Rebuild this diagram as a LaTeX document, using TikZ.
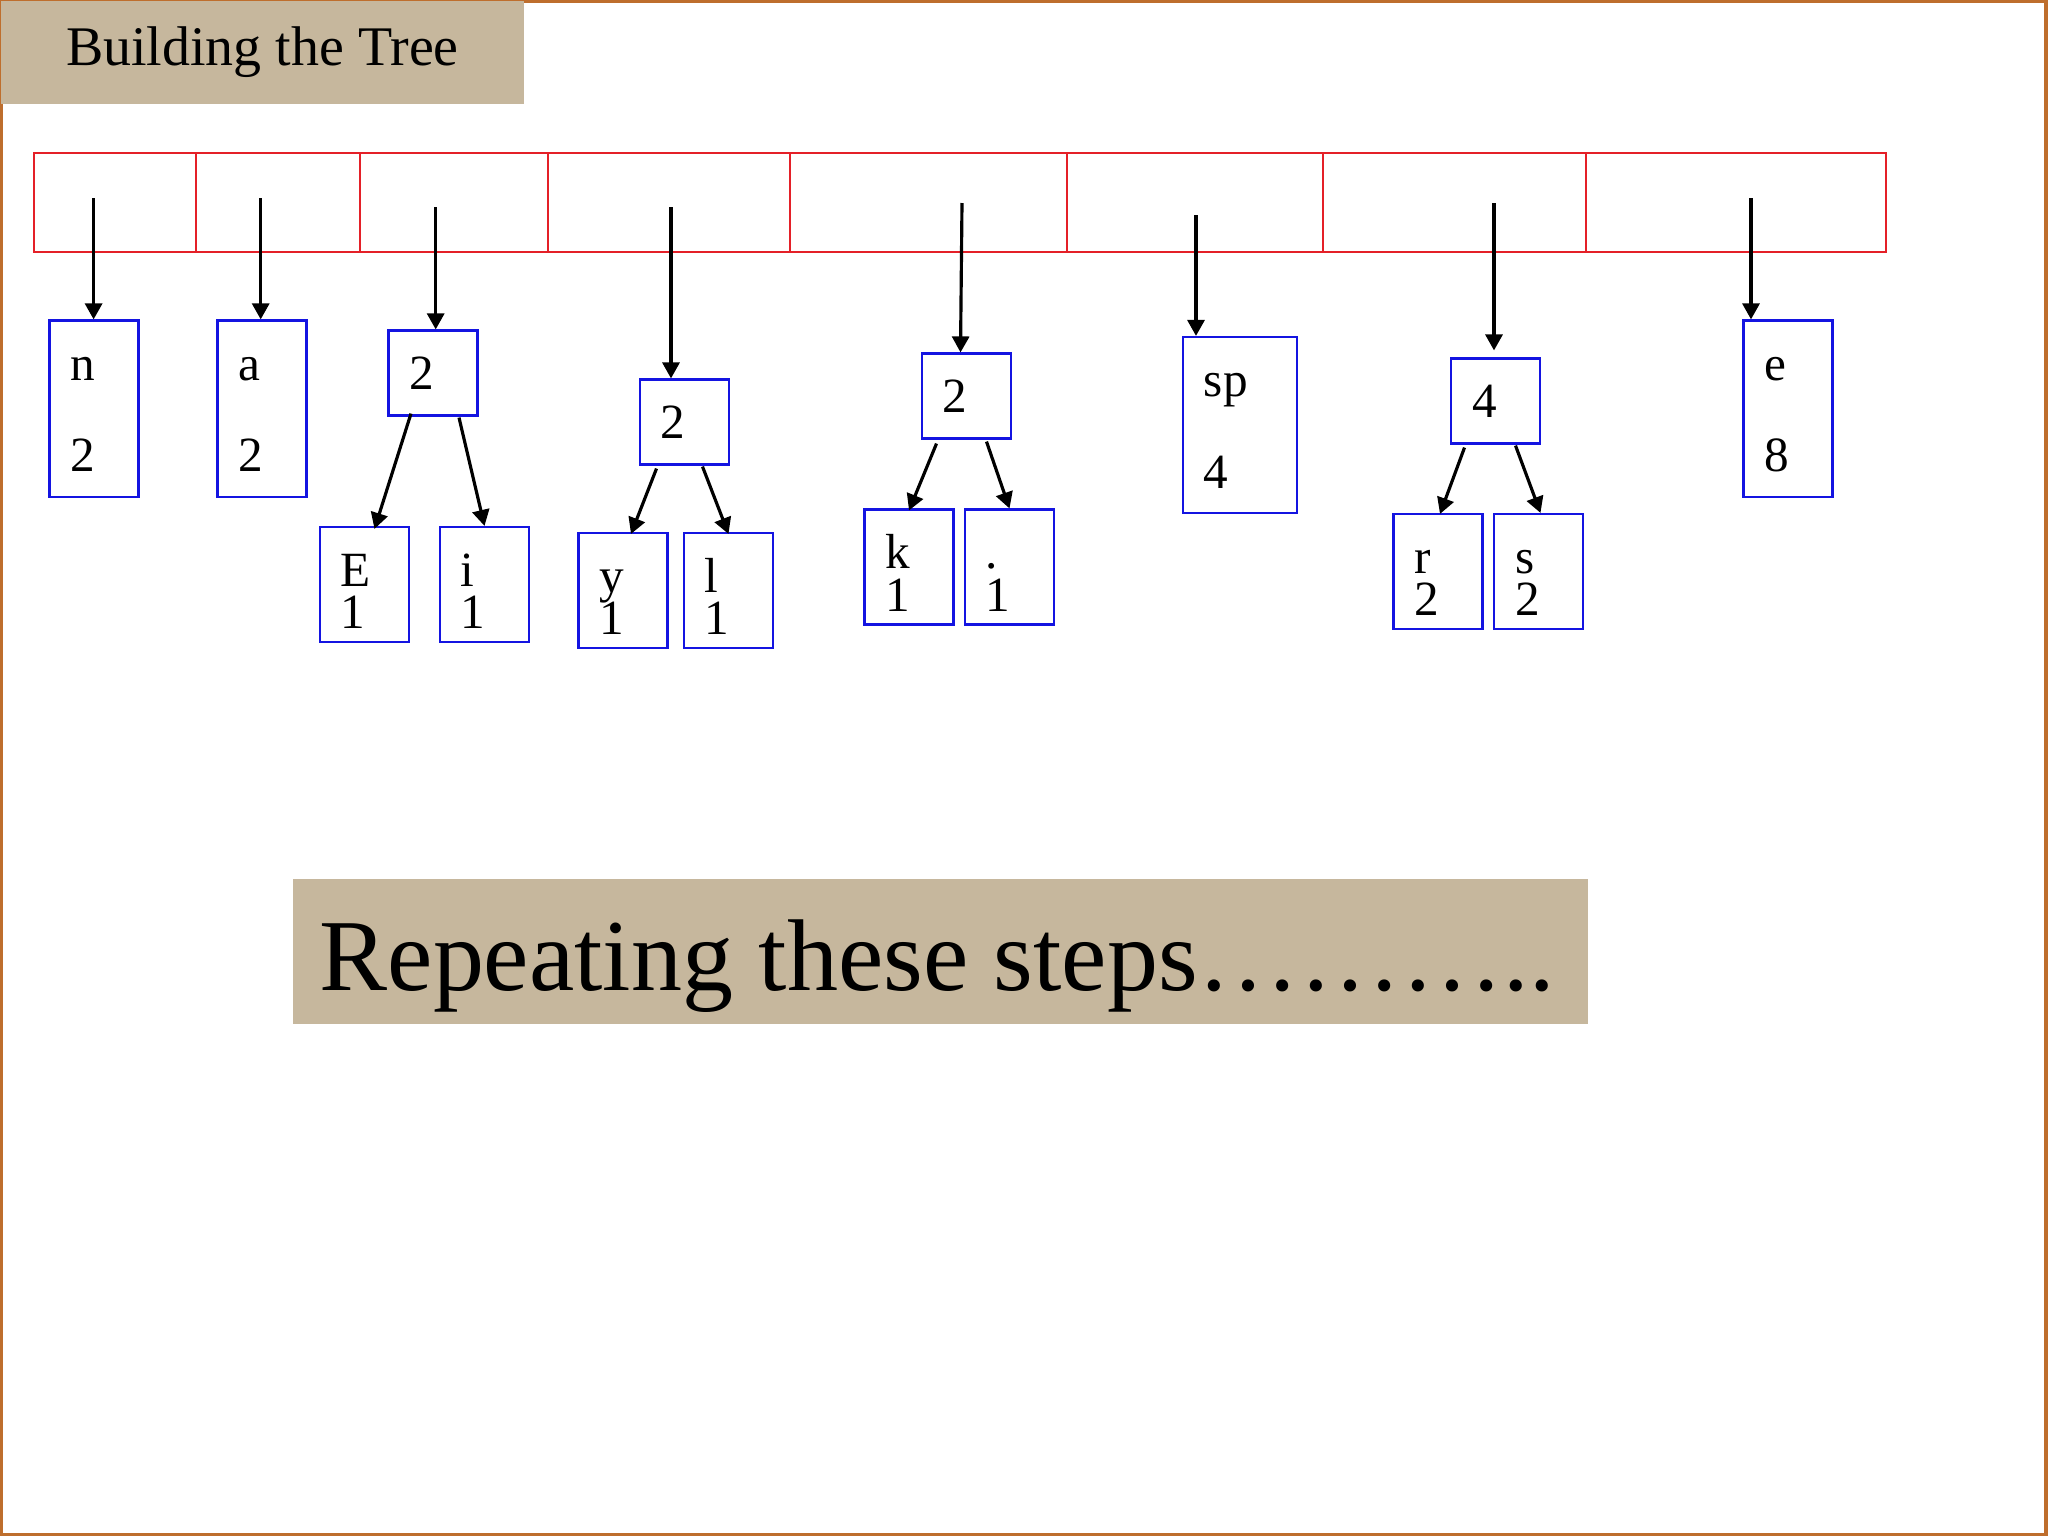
\documentclass[tikz,border=0pt]{standalone}
\usepackage{fontspec}
\setmainfont{Liberation Serif}
\usetikzlibrary{arrows.meta,calc}
\definecolor{boxblue}{RGB}{20,20,225}
\definecolor{slotred}{RGB}{228,32,40}
\definecolor{tanbg}{RGB}{198,183,157}
\definecolor{rim}{RGB}{190,110,45}

\begin{document}
\begin{tikzpicture}[x=.01cm,y=-.01cm,
  slot/.style={draw=slotred,line width=.6pt},
  cellbox/.style={draw=boxblue,line width=.6pt,align=left,inner xsep=.21cm,inner ysep=0pt,text width=.47cm},
  leaf/.style={cellbox,minimum height=1.76cm,font=\fontsize{14}{26}\selectfont},
  pairleaf/.style={cellbox,minimum height=1.15cm,font=\fontsize{14}{12.2}\selectfont},
  joint/.style={cellbox,minimum height=.85cm,font=\fontsize{14}{17}\selectfont},
  ptr/.style={-{Triangle[length=.16cm,width=.17cm]},line width=.9pt},
  banner/.style={fill=tanbg,inner sep=0pt}]
% ---- page: 2048 x 1536 units, y runs downwards
\def\tallstrut{\rule{0pt}{.35cm}}
\def\pairstrut{\rule{0pt}{.46cm}}
\useasboundingbox (0,0) rectangle (2048,1536);
\fill[white] (0,0) rectangle (2048,1536);
\draw[rim,line width=.9pt] (1,1) rectangle (2046,1535);
% ---- title
\node[banner,anchor=north west,minimum width=5.23cm,minimum height=1.03cm,
  font=\fontsize{15.9}{19}\selectfont] (title) at (0,0) {Building the Tree};
% ---- the array of slots
\def\ya{153} \def\yb{252}
\draw[slot] (34,\ya) rectangle (1886,\yb);
\draw[slot] (196,\ya) -- (196,\yb) (360,\ya) -- (360,\yb) (548,\ya) -- (548,\yb)
  (790,\ya) -- (790,\yb) (1067,\ya) -- (1067,\yb) (1323,\ya) -- (1323,\yb) (1586,\ya) -- (1586,\yb);
\coordinate (t1) at (93.6,198);  \coordinate (t2) at (260.7,198);
\coordinate (t3) at (435.7,207); \coordinate (t4) at (671,207);
\coordinate (t5) at (962,203);   \coordinate (t6) at (1196,215);
\coordinate (t7) at (1494,203);  \coordinate (t8) at (1751,198);
% ---- single leaves and small trees
\node[leaf] (n) at (94,408.5) {\tallstrut n\\2};
\node[leaf] (a) at (262,408.5) {\tallstrut a\\2};
\node[joint] (p1) at (433,373) {2};
\node[pairleaf] (E) at (364.5,584.5) {\pairstrut E\\1};
\node[pairleaf] (i) at (484.5,584.5) {\pairstrut i\\1};
\node[joint] (p2) at (684.5,422) {2};
\node[pairleaf] (y) at (623,590.5) {\pairstrut\smash{y}\\1};
\node[pairleaf] (l) at (728.5,590.5) {\pairstrut l\\1};
\node[joint] (p3) at (966.5,396) {2};
\node[pairleaf] (k) at (909,567) {\pairstrut k\\1};
\node[pairleaf] (dot) at (1009.5,567) {\pairstrut .\\1};
\node[leaf,text width=.72cm] (sp) at (1240,425) {\tallstrut sp\\4};
\node[joint] (p4) at (1495.5,401) {4};
\node[pairleaf] (r) at (1438,571.5) {\pairstrut r\\2};
\node[pairleaf] (s) at (1538.5,571.5) {\pairstrut s\\2};
\node[leaf] (e) at (1788,408.5) {\tallstrut e\\8};
% ---- pointers from the slots
\draw[ptr] (t1) -- (t1 |- n.north);
\draw[ptr] (t2) -- (t2 |- a.north);
\draw[ptr] (t3) -- (t3 |- p1.north);
\draw[ptr] (t4) -- (t4 |- p2.north);
\draw[ptr] (t5) -- ($(p3.north)+(-6,0)$);
\draw[ptr] (t6) -- (t6 |- sp.north);
\draw[ptr] (t7) -- ($(t7 |- p4.north)+(0,-7)$);
\draw[ptr] (t8) -- (t8 |- e.north);
% ---- children
\draw[ptr] ($(p1.south)+(-22,-3)$) -- ($(E.north)+(10,3)$);
\draw[ptr] ($(p1.south)+(26,1)$) -- (i.north);
\draw[ptr] ($(p2.south)+(-28,3)$) -- ($(y.north)+(8,2)$);
\draw[ptr] ($(p2.south)+(18,1)$) -- ($(l.north)+(0,2)$);
\draw[ptr] ($(p3.south)+(-30,4)$) -- ($(k.north)+(0,2)$);
\draw[ptr] ($(p3.south)+(20,2)$) -- (dot.north);
\draw[ptr] ($(p4.south)+(-31,3)$) -- ($(r.north)+(2,1)$);
\draw[ptr] ($(p4.south)+(20,1)$) -- ($(s.north)+(2,0)$);
% ---- closing remark
\fill[tanbg] (293,879) rectangle (1588,1024);
\node[anchor=base west,inner sep=0pt,font=\fontsize{29}{34}\selectfont] (recap) at (319,990)
  {Repeating these steps………..};
\end{tikzpicture}
\end{document}
